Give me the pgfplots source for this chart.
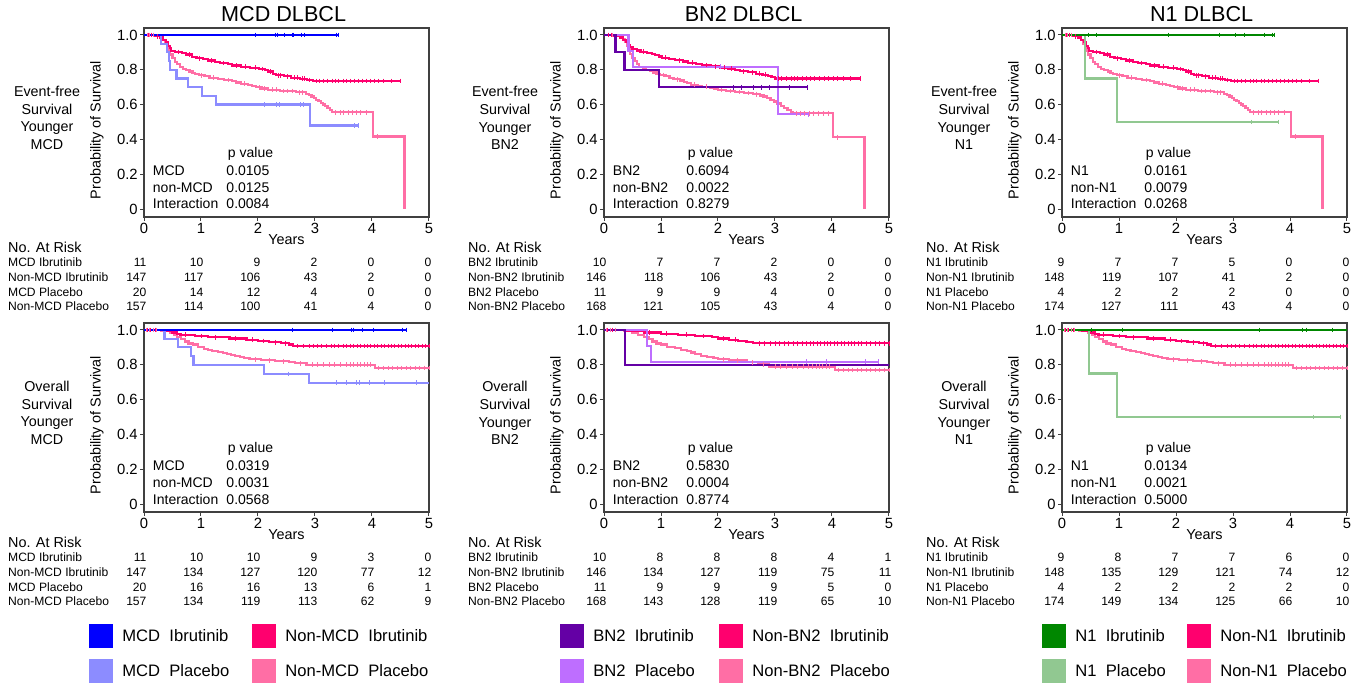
\documentclass[border=0pt]{standalone}
\usepackage{fontspec}
\setmainfont{Liberation Sans}
\usepackage{pgfplots}
\usepackage{pgfplotstable}
\pgfplotsset{compat=1.18}

\definecolor{cBlu}{RGB}{0,0,255}
\definecolor{cBlL}{RGB}{140,140,255}
\definecolor{cRed}{RGB}{255,0,110}
\definecolor{cPnk}{RGB}{255,110,165}
\definecolor{cPur}{RGB}{100,0,165}
\definecolor{cPuL}{RGB}{190,110,255}
\definecolor{cGrn}{RGB}{0,135,0}
\definecolor{cGrL}{RGB}{145,200,145}

\newcommand\ttlf{\fontsize{10.8}{13}\selectfont}
\newcommand\tckf{\fontsize{7.4}{9}\selectfont}
\newcommand\labf{\fontsize{7.2}{9}\selectfont}
\newcommand\pvf{\fontsize{7}{8.5}\selectfont}
\newcommand\sidef{\fontsize{7.15}{8.85}\selectfont}
\newcommand\rkf{\fontsize{6.05}{7}\selectfont}
\newcommand\narf{\fontsize{7.2}{8.5}\selectfont}
\newcommand\lgf{\fontsize{8.3}{10}\selectfont}

% t = years, s = survival, c = 1 for a censored case
\pgfplotstableread{
t s c
0 1 0
1.95 1 1
2.30 1 1
2.34 1 1
2.46 1 1
2.60 1 1
2.63 1 1
2.77 1 1
2.81 1 1
3.38 1 1
3.42 1 1
}\mcdIbrE
\pgfplotstableread{
t s c
0 1 0
0.30 0.95 0
0.40 0.90 0
0.44 0.85 0
0.46 0.80 0
0.57 0.75 0
0.77 0.70 0
1.02 0.65 0
1.27 0.60 0
2.11 0.60 1
2.33 0.60 1
2.38 0.60 1
2.74 0.60 1
2.79 0.60 1
2.91 0.48 0
3.70 0.48 1
3.76 0.48 1
}\mcdPlaE
\pgfplotstableread{
t s c
0 1 0
2.61 1 1
3.30 1 1
3.64 1 1
3.68 1 1
3.84 1 1
4.02 1 1
4.54 1 1
4.60 1 1
}\mcdIbrO
\pgfplotstableread{
t s c
0 1 0
0.36 0.95 0
0.59 0.90 0
0.83 0.85 0
0.87 0.80 0
2.11 0.747 0
2.54 0.747 1
2.90 0.697 0
3.38 0.697 1
3.55 0.697 1
3.72 0.697 1
3.78 0.697 1
3.96 0.697 1
4.22 0.697 1
4.78 0.697 1
5.00 0.697 0
}\mcdPlaO
\pgfplotstableread{
t s c
0 1 0
0.20 0.90 0
0.36 0.80 0
0.96 0.70 0
2.27 0.70 1
2.41 0.70 1
2.62 0.70 1
2.76 0.70 1
2.91 0.70 1
3.26 0.70 1
3.57 0.70 1
}\bnIbrE
\pgfplotstableread{
t s c
0 1 0
0.43 0.909 0
0.51 0.818 0
2.05 0.818 1
3.05 0.545 0
3.58 0.545 1
}\bnPlaE
\pgfplotstableread{
t s c
0 1 0
0.37 0.80 0
5.00 0.80 0
}\bnIbrO
\pgfplotstableread{
t s c
0 1 0
0.75 0.909 0
0.82 0.818 0
3.56 0.818 1
3.91 0.818 1
4.58 0.818 1
4.82 0.818 1
}\bnPlaO
\pgfplotstableread{
t s c
0 1 0
0.46 1 1
0.60 1 1
1.86 1 1
2.76 1 1
3.05 1 1
3.20 1 1
3.55 1 1
3.70 1 1
3.73 1 1
}\noIbrE
\pgfplotstableread{
t s c
0 1 0
0.40 0.75 0
0.96 0.50 0
3.32 0.50 1
3.79 0.50 1
}\noPlaE
\pgfplotstableread{
t s c
0 1 0
0.52 1 1
1.06 1 1
3.47 1 1
4.22 1 1
4.28 1 1
4.74 1 1
5.00 1 0
}\noIbrO
\pgfplotstableread{
t s c
0 1 0
0.48 0.75 0
0.96 0.50 0
4.41 0.50 1
4.89 0.50 1
}\noPlaO
% non-subtype arms, event-free survival (MCD and N1 panels)
\pgfplotstableread{
t s c
0 1 0
0.08 1 1
0.13 1 1
0.18 0.993 0
0.23 0.993 1
0.28 0.986 0
0.34 0.972 0
0.38 0.958 0
0.42 0.937 0
0.45 0.923 0
0.48 0.909 0
0.55 0.902 0
0.60 0.902 1
0.66 0.895 0
0.74 0.888 0
0.80 0.888 1
0.84 0.874 0
0.92 0.867 0
0.97 0.867 1
1.04 0.860 0
1.12 0.853 0
1.18 0.853 1
1.24 0.846 0
1.33 0.839 0
1.40 0.839 1
1.47 0.832 0
1.55 0.825 0
1.62 0.825 1
1.70 0.818 0
1.78 0.818 1
1.86 0.811 0
1.95 0.811 1
2.02 0.804 0
2.08 0.804 1
2.12 0.797 0
2.18 0.790 0
2.22 0.790 1
2.26 0.776 0
2.32 0.769 0
2.36 0.769 1
2.40 0.769 1
2.45 0.762 0
2.52 0.762 1
2.58 0.755 0
2.64 0.755 1
2.70 0.755 1
2.74 0.748 0
2.78 0.748 1
2.82 0.748 1
2.86 0.741 0
2.90 0.741 1
2.96 0.735 0
3.02 0.735 1
3.08 0.735 1
3.14 0.735 1
3.22 0.735 1
3.30 0.735 1
3.36 0.735 1
3.42 0.735 1
3.50 0.735 1
3.56 0.735 1
3.62 0.735 1
3.70 0.735 1
3.76 0.735 1
3.84 0.735 1
3.90 0.735 1
3.98 0.735 1
4.05 0.735 1
4.12 0.735 1
4.20 0.735 1
4.35 0.735 1
4.50 0.735 1
}\nonIbrEA
\pgfplotstableread{
t s c
0 1 0
0.06 1 1
0.10 1 1
0.16 1 1
0.22 0.993 0
0.28 0.986 0
0.33 0.972 0
0.37 0.951 0
0.40 0.930 0
0.43 0.909 0
0.46 0.888 0
0.50 0.867 0
0.54 0.846 0
0.58 0.832 0
0.63 0.818 0
0.68 0.804 0
0.74 0.797 0
0.80 0.790 0
0.85 0.783 0
0.90 0.776 0
0.96 0.769 0
1.00 0.769 1
1.06 0.762 0
1.15 0.755 0
1.22 0.755 1
1.30 0.748 0
1.40 0.741 0
1.48 0.741 1
1.55 0.734 0
1.62 0.727 0
1.70 0.720 0
1.76 0.720 1
1.82 0.713 0
1.90 0.706 0
1.96 0.699 0
2.02 0.699 1
2.06 0.692 0
2.12 0.692 1
2.18 0.685 0
2.25 0.685 1
2.32 0.685 1
2.38 0.678 0
2.45 0.678 1
2.52 0.678 1
2.60 0.678 1
2.66 0.671 0
2.72 0.671 1
2.78 0.671 1
2.84 0.663 0
2.90 0.655 0
2.94 0.646 0
2.98 0.637 0
3.02 0.628 0
3.06 0.619 0
3.10 0.610 0
3.14 0.601 0
3.18 0.590 0
3.22 0.579 0
3.26 0.567 0
3.30 0.556 0
3.36 0.556 1
3.44 0.556 1
3.50 0.556 1
3.58 0.556 1
3.65 0.556 1
3.72 0.556 1
3.80 0.556 1
3.90 0.556 1
4.02 0.417 0
4.10 0.417 1
4.57 0 0
}\nonPlaEA
% non-BN2 arms, event-free survival
\pgfplotstableread{
t s c
0 1 0
0.08 1 1
0.13 1 1
0.18 0.993 0
0.28 0.986 0
0.34 0.972 0
0.38 0.958 0
0.42 0.944 0
0.46 0.930 0
0.50 0.918 0
0.58 0.911 0
0.64 0.904 0
0.70 0.904 1
0.76 0.897 0
0.84 0.890 0
0.90 0.883 0
0.96 0.876 0
1.02 0.869 0
1.08 0.869 1
1.14 0.862 0
1.24 0.855 0
1.32 0.855 1
1.38 0.848 0
1.48 0.841 0
1.56 0.841 1
1.62 0.834 0
1.72 0.827 0
1.80 0.827 1
1.88 0.820 0
1.96 0.820 1
2.04 0.813 0
2.12 0.813 1
2.18 0.806 0
2.24 0.806 1
2.30 0.799 0
2.38 0.792 0
2.44 0.792 1
2.52 0.785 0
2.60 0.785 1
2.66 0.778 0
2.72 0.778 1
2.78 0.771 0
2.84 0.771 1
2.88 0.764 0
2.94 0.757 0
3.00 0.750 0
3.06 0.750 1
3.12 0.750 1
3.20 0.750 1
3.28 0.750 1
3.34 0.750 1
3.40 0.750 1
3.48 0.750 1
3.55 0.750 1
3.62 0.750 1
3.70 0.750 1
3.78 0.750 1
3.86 0.750 1
3.94 0.750 1
4.02 0.750 1
4.10 0.750 1
4.20 0.750 1
4.32 0.750 1
4.50 0.750 1
}\nonIbrEB
\pgfplotstableread{
t s c
0 1 0
0.08 1 1
0.15 1 1
0.22 0.994 0
0.28 0.988 0
0.33 0.976 0
0.37 0.958 0
0.40 0.940 0
0.43 0.916 0
0.46 0.892 0
0.50 0.868 0
0.54 0.850 0
0.58 0.832 0
0.62 0.818 0
0.68 0.808 0
0.74 0.800 0
0.80 0.792 0
0.86 0.784 0
0.92 0.776 0
0.98 0.770 0
1.04 0.770 1
1.08 0.762 0
1.15 0.754 0
1.22 0.746 0
1.28 0.746 1
1.34 0.738 0
1.40 0.730 0
1.46 0.722 0
1.52 0.714 0
1.58 0.714 1
1.64 0.708 0
1.72 0.702 0
1.80 0.702 1
1.86 0.696 0
1.94 0.690 0
2.00 0.684 0
2.06 0.684 1
2.14 0.678 0
2.22 0.678 1
2.30 0.672 0
2.38 0.672 1
2.46 0.666 0
2.54 0.666 1
2.62 0.660 0
2.68 0.660 1
2.74 0.652 0
2.80 0.646 0
2.86 0.638 0
2.92 0.628 0
2.98 0.618 0
3.04 0.606 0
3.10 0.594 0
3.16 0.582 0
3.22 0.570 0
3.28 0.558 0
3.32 0.551 0
3.38 0.551 1
3.45 0.551 1
3.52 0.551 1
3.60 0.551 1
3.68 0.551 1
3.76 0.551 1
3.85 0.551 1
3.94 0.551 1
4.02 0.413 0
4.10 0.413 1
4.57 0 0
}\nonPlaEB
% non-subtype arms, overall survival (MCD and N1 panels)
\pgfplotstableread{
t s c
0 1 0
0.06 1 1
0.12 1 1
0.20 1 1
0.35 0.993 0
0.50 0.986 0
0.58 0.979 0
0.64 0.972 0
0.72 0.972 1
0.90 0.965 0
1.00 0.965 1
1.12 0.958 0
1.25 0.958 1
1.50 0.951 0
1.60 0.951 1
1.80 0.944 0
1.90 0.944 1
2.00 0.937 0
2.10 0.937 1
2.20 0.930 0
2.30 0.930 1
2.40 0.923 0
2.48 0.923 1
2.55 0.916 0
2.62 0.908 0
2.70 0.908 1
2.80 0.908 1
2.90 0.908 1
2.98 0.908 1
3.05 0.908 1
3.12 0.908 1
3.20 0.908 1
3.28 0.908 1
3.35 0.908 1
3.42 0.908 1
3.50 0.908 1
3.56 0.908 1
3.62 0.908 1
3.68 0.908 1
3.74 0.908 1
3.80 0.908 1
3.86 0.908 1
3.92 0.908 1
3.98 0.908 1
4.04 0.908 1
4.10 0.908 1
4.16 0.908 1
4.22 0.908 1
4.28 0.908 1
4.34 0.908 1
4.40 0.908 1
4.46 0.908 1
4.52 0.908 1
4.58 0.908 1
4.64 0.908 1
4.70 0.908 1
4.76 0.908 1
4.82 0.908 1
4.88 0.908 1
4.94 0.908 1
5.00 0.908 1
}\nonIbrOA
\pgfplotstableread{
t s c
0 1 0
0.05 1 1
0.10 1 1
0.16 1 1
0.22 1 1
0.30 0.994 0
0.45 0.982 0
0.52 0.970 0
0.58 0.958 0
0.65 0.946 0
0.72 0.934 0
0.78 0.922 0
0.86 0.916 0
0.95 0.904 0
1.05 0.892 0
1.12 0.886 0
1.20 0.880 0
1.30 0.874 0
1.38 0.868 0
1.46 0.862 0
1.52 0.856 0
1.60 0.850 0
1.68 0.844 0
1.76 0.838 0
1.85 0.832 0
1.95 0.832 1
2.05 0.826 0
2.20 0.826 1
2.30 0.820 0
2.45 0.820 1
2.55 0.814 0
2.65 0.808 0
2.75 0.808 1
2.85 0.800 0
2.95 0.800 1
3.05 0.800 1
3.15 0.800 1
3.25 0.800 1
3.35 0.800 1
3.45 0.800 1
3.55 0.800 1
3.62 0.800 1
3.68 0.800 1
3.74 0.800 1
3.80 0.800 1
3.86 0.800 1
3.92 0.800 1
3.98 0.800 1
4.05 0.782 0
4.12 0.782 1
4.20 0.782 1
4.28 0.782 1
4.36 0.782 1
4.44 0.782 1
4.52 0.782 1
4.60 0.782 1
4.68 0.782 1
4.76 0.782 1
4.84 0.782 1
4.92 0.782 1
5.00 0.782 1
}\nonPlaOA
% non-BN2 arms, overall survival
\pgfplotstableread{
t s c
0 1 0
0.06 1 1
0.15 1 1
0.40 0.993 0
0.70 0.986 0
0.80 0.986 1
1.00 0.979 0
1.10 0.979 1
1.30 0.972 0
1.45 0.972 1
1.60 0.965 0
1.75 0.965 1
1.90 0.958 0
2.00 0.951 0
2.10 0.951 1
2.20 0.944 0
2.30 0.944 1
2.35 0.937 0
2.50 0.930 0
2.62 0.923 0
2.72 0.923 1
2.82 0.923 1
2.92 0.923 1
3.00 0.923 1
3.08 0.923 1
3.16 0.923 1
3.24 0.923 1
3.32 0.923 1
3.40 0.923 1
3.48 0.923 1
3.55 0.923 1
3.62 0.923 1
3.68 0.923 1
3.74 0.923 1
3.80 0.923 1
3.86 0.923 1
3.92 0.923 1
3.98 0.923 1
4.04 0.923 1
4.10 0.923 1
4.16 0.923 1
4.22 0.923 1
4.28 0.923 1
4.34 0.923 1
4.40 0.923 1
4.46 0.923 1
4.52 0.923 1
4.60 0.923 1
4.68 0.923 1
4.76 0.923 1
4.84 0.923 1
4.92 0.923 1
5.00 0.923 1
}\nonIbrOB
\pgfplotstableread{
t s c
0 1 0
0.05 1 1
0.12 1 1
0.20 1 1
0.35 0.994 0
0.50 0.982 0
0.60 0.970 0
0.70 0.958 0
0.78 0.946 0
0.85 0.934 0
0.92 0.922 0
1.00 0.916 0
1.10 0.904 0
1.25 0.898 0
1.35 0.886 0
1.45 0.880 0
1.52 0.870 0
1.60 0.862 0
1.70 0.850 0
1.80 0.844 0
1.92 0.838 0
2.00 0.832 0
2.10 0.832 1
2.20 0.826 0
2.35 0.826 1
2.50 0.814 0
2.60 0.814 1
2.70 0.802 0
2.80 0.802 1
2.90 0.790 0
3.00 0.790 1
3.10 0.790 1
3.20 0.790 1
3.30 0.790 1
3.40 0.790 1
3.50 0.790 1
3.58 0.790 1
3.66 0.790 1
3.72 0.790 1
3.78 0.790 1
3.84 0.790 1
3.90 0.790 1
3.96 0.790 1
4.05 0.770 0
4.12 0.770 1
4.20 0.770 1
4.28 0.770 1
4.36 0.770 1
4.44 0.770 1
4.52 0.770 1
4.60 0.770 1
4.68 0.770 1
4.76 0.770 1
4.84 0.770 1
4.92 0.770 1
5.00 0.770 1
}\nonPlaOB

\pgfplotsset{
  km/.style={
    scale only axis, width=142.5pt, height=94.5pt, anchor=north west,
    xmin=0, xmax=5, ymin=-0.046, ymax=1.04, clip=false,
    xtick={0,1,2,3,4,5}, xticklabels={0,1,2,3,4,5},
    ytick={0,0.2,0.4,0.6,0.8,1}, yticklabels={0,0.2,0.4,0.6,0.8,1.0},
    tick align=outside, tick pos=left, major tick length=2pt,
    axis line style={black!75, line width=0.6pt},
    every tick/.style={black!75, line width=0.5pt},
    tick label style={font=\tckf},
    xticklabel style={inner sep=1pt},
    yticklabel style={inner sep=1pt},
    ylabel={Probability of Survival},
    ylabel style={at={(axis description cs:-0.165,0.46)}, anchor=center, font=\labf},
    xlabel={Years},
    xlabel style={at={(axis description cs:0.5,-0.122)}, anchor=center, font=\labf},
  },
  curve/.style={const plot, mark=none, line width=1.1pt},
  cens/.style={only marks, mark=|, mark size=1.2pt, mark options={line width=0.45pt},
    restrict expr to domain={\thisrow{c}}{0.5:1.5}},
}
\tikzset{
  pv/.style={anchor=base west, inner sep=0pt, font=\pvf},
  rlab/.style={anchor=base west, inner sep=0pt, font=\rkf},
  rnum/.style={anchor=base east, inner sep=0pt, font=\rkf},
  lg/.style={anchor=base west, inner sep=0pt, font=\lgf},
}

% title over an axis
\newcommand\paneltitle[1]{\node[anchor=base, inner sep=0pt, font=\ttlf] at (axis description cs:0.49,1.034) {#1};}
% p values block inside an axis
\newcommand\pblock[5]{%
  \node[pv] at (axis cs:1.466,0.296) {p value};
  \node[pv] at (axis cs:0.15,0.19) {#1};
  \node[pv] at (axis cs:1.44,0.19) {#3};
  \node[pv] at (axis cs:0.15,0.095) {#2};
  \node[pv] at (axis cs:1.44,0.095) {#4};
  \node[pv] at (axis cs:0.15,0.0) {Interaction};
  \node[pv] at (axis cs:1.44,0.0) {#5};
}
% one line of the numbers at risk
\newcommand\riskrow[8]{%
  \node[rlab] at (axis cs:-2.39,#1) {#2};
  \node[rnum] at (axis cs:0.05,#1) {#3};
  \node[rnum] at (axis cs:1.05,#1) {#4};
  \node[rnum] at (axis cs:2.05,#1) {#5};
  \node[rnum] at (axis cs:3.05,#1) {#6};
  \node[rnum] at (axis cs:4.05,#1) {#7};
  \node[rnum] at (axis cs:5.05,#1) {#8};
}
\newcommand\riskhead{\node[anchor=base west, inner sep=0pt, font=\narf] at (axis cs:-2.39,-0.252) {No. At Risk};}
% four curves: subtype ibrutinib / placebo, non-subtype ibrutinib / placebo
\newcommand\kmcurves[6]{%
  \addplot[curve, cPnk] table[x=t,y=s] {#4};
  \addplot[cens, cPnk] table[x=t,y=s] {#4};
  \addplot[curve, cRed] table[x=t,y=s] {#3};
  \addplot[cens, cRed] table[x=t,y=s] {#3};
  \addplot[curve, #6] table[x=t,y=s] {#2};
  \addplot[cens, #6] table[x=t,y=s] {#2};
  \addplot[curve, #5] table[x=t,y=s] {#1};
  \addplot[cens, #5] table[x=t,y=s] {#1};
}
\newcommand\legitem[4]{%
  \fill[#1] (#2pt,#3pt) rectangle ++(12pt,-12pt);
  \node[lg] at (#2pt+16.5pt,#3pt-8.6pt) {#4};
}

\begin{document}
\begin{tikzpicture}
\useasboundingbox (0,0) rectangle (683.5pt,-343pt);

\node[align=center, font=\sidef] at (23.5pt,-59pt) {Event-free\\Survival\\Younger\\MCD};
\node[align=center, font=\sidef] at (23.5pt,-206.5pt) {Overall\\Survival\\Younger\\MCD};
\node[align=center, font=\sidef] at (252.5pt,-59pt) {Event-free\\Survival\\Younger\\BN2};
\node[align=center, font=\sidef] at (252.5pt,-206.5pt) {Overall\\Survival\\Younger\\BN2};
\node[align=center, font=\sidef] at (482pt,-59pt) {Event-free\\Survival\\Younger\\N1};
\node[align=center, font=\sidef] at (482pt,-206.5pt) {Overall\\Survival\\Younger\\N1};

% MCD, event-free survival
\begin{axis}[km, at={(72pt,-14pt)}]
\kmcurves{\mcdIbrE}{\mcdPlaE}{\nonIbrEA}{\nonPlaEA}{cBlu}{cBlL}
\paneltitle{MCD DLBCL}
\pblock{MCD}{non-MCD}{0.0105}{0.0125}{0.0084}
\riskhead
\riskrow{-0.33}{MCD Ibrutinib}{11}{10}{9}{2}{0}{0}
\riskrow{-0.415}{Non-MCD Ibrutinib}{147}{117}{106}{43}{2}{0}
\riskrow{-0.50}{MCD Placebo}{20}{14}{12}{4}{0}{0}
\riskrow{-0.585}{Non-MCD Placebo}{157}{114}{100}{41}{4}{0}
\end{axis}

% BN2, event-free survival
\begin{axis}[km, at={(302pt,-14pt)}]
\kmcurves{\bnIbrE}{\bnPlaE}{\nonIbrEB}{\nonPlaEB}{cPur}{cPuL}
\paneltitle{BN2 DLBCL}
\pblock{BN2}{non-BN2}{0.6094}{0.0022}{0.8279}
\riskhead
\riskrow{-0.33}{BN2 Ibrutinib}{10}{7}{7}{2}{0}{0}
\riskrow{-0.415}{Non-BN2 Ibrutinib}{146}{118}{106}{43}{2}{0}
\riskrow{-0.50}{BN2 Placebo}{11}{9}{9}{4}{0}{0}
\riskrow{-0.585}{Non-BN2 Placebo}{168}{121}{105}{43}{4}{0}
\end{axis}

% N1, event-free survival
\begin{axis}[km, at={(531pt,-14pt)}]
\kmcurves{\noIbrE}{\noPlaE}{\nonIbrEA}{\nonPlaEA}{cGrn}{cGrL}
\paneltitle{N1 DLBCL}
\pblock{N1}{non-N1}{0.0161}{0.0079}{0.0268}
\riskhead
\riskrow{-0.33}{N1 Ibrutinib}{9}{7}{7}{5}{0}{0}
\riskrow{-0.415}{Non-N1 Ibrutinib}{148}{119}{107}{41}{2}{0}
\riskrow{-0.50}{N1 Placebo}{4}{2}{2}{2}{0}{0}
\riskrow{-0.585}{Non-N1 Placebo}{174}{127}{111}{43}{4}{0}
\end{axis}

% MCD, overall survival
\begin{axis}[km, at={(72pt,-161.5pt)}]
\kmcurves{\mcdIbrO}{\mcdPlaO}{\nonIbrOA}{\nonPlaOA}{cBlu}{cBlL}
\pblock{MCD}{non-MCD}{0.0319}{0.0031}{0.0568}
\riskhead
\riskrow{-0.33}{MCD Ibrutinib}{11}{10}{10}{9}{3}{0}
\riskrow{-0.415}{Non-MCD Ibrutinib}{147}{134}{127}{120}{77}{12}
\riskrow{-0.50}{MCD Placebo}{20}{16}{16}{13}{6}{1}
\riskrow{-0.585}{Non-MCD Placebo}{157}{134}{119}{113}{62}{9}
\end{axis}

% BN2, overall survival
\begin{axis}[km, at={(302pt,-161.5pt)}]
\kmcurves{\bnIbrO}{\bnPlaO}{\nonIbrOB}{\nonPlaOB}{cPur}{cPuL}
\pblock{BN2}{non-BN2}{0.5830}{0.0004}{0.8774}
\riskhead
\riskrow{-0.33}{BN2 Ibrutinib}{10}{8}{8}{8}{4}{1}
\riskrow{-0.415}{Non-BN2 Ibrutinib}{146}{134}{127}{119}{75}{11}
\riskrow{-0.50}{BN2 Placebo}{11}{9}{9}{9}{5}{0}
\riskrow{-0.585}{Non-BN2 Placebo}{168}{143}{128}{119}{65}{10}
\end{axis}

% N1, overall survival
\begin{axis}[km, at={(531pt,-161.5pt)}]
\kmcurves{\noIbrO}{\noPlaO}{\nonIbrOA}{\nonPlaOA}{cGrn}{cGrL}
\pblock{N1}{non-N1}{0.0134}{0.0021}{0.5000}
\riskhead
\riskrow{-0.33}{N1 Ibrutinib}{9}{8}{7}{7}{6}{0}
\riskrow{-0.415}{Non-N1 Ibrutinib}{148}{135}{129}{121}{74}{12}
\riskrow{-0.50}{N1 Placebo}{4}{2}{2}{2}{2}{0}
\riskrow{-0.585}{Non-N1 Placebo}{174}{149}{134}{125}{66}{10}
\end{axis}

% legends
\legitem{cBlu}{44.5}{-312}{MCD\ \ Ibrutinib}
\legitem{cRed}{126}{-312}{Non-MCD\ \ Ibrutinib}
\legitem{cBlL}{44.5}{-329.5}{MCD\ \ Placebo}
\legitem{cPnk}{126}{-329.5}{Non-MCD\ \ Placebo}
\legitem{cPur}{280}{-312}{BN2\ \ Ibrutinib}
\legitem{cRed}{359.5}{-312}{Non-BN2\ \ Ibrutinib}
\legitem{cPuL}{280}{-329.5}{BN2\ \ Placebo}
\legitem{cPnk}{359.5}{-329.5}{Non-BN2\ \ Placebo}
\legitem{cGrn}{521}{-312}{N1\ \ Ibrutinib}
\legitem{cRed}{593.5}{-312}{Non-N1\ \ Ibrutinib}
\legitem{cGrL}{521}{-329.5}{N1\ \ Placebo}
\legitem{cPnk}{593.5}{-329.5}{Non-N1\ \ Placebo}
\end{tikzpicture}
\end{document}
